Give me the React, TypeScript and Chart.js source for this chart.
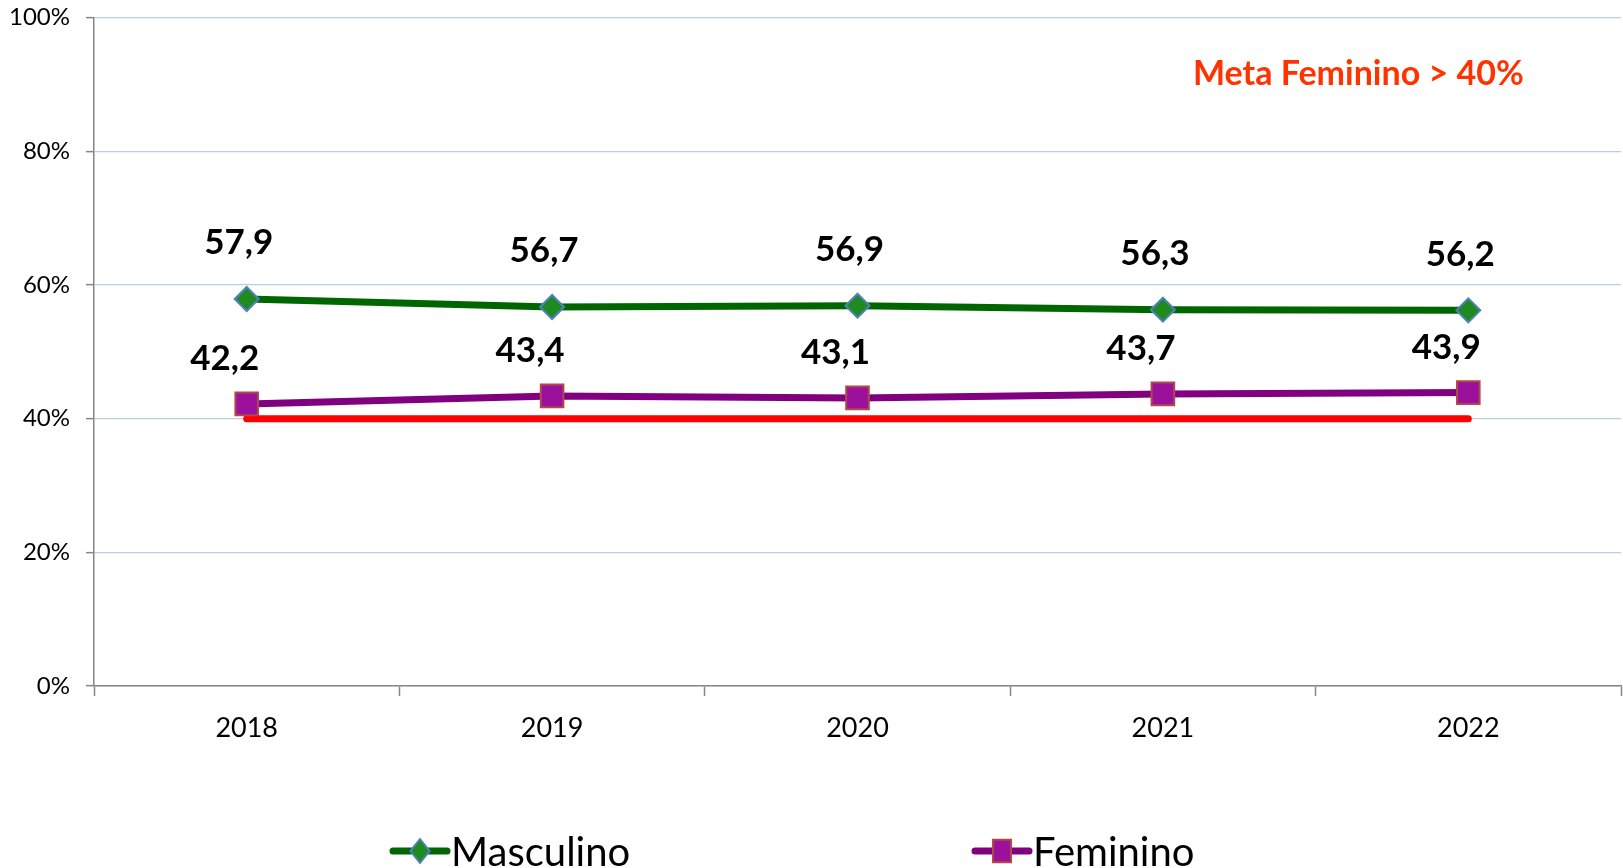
import React, { useEffect, useRef } from "react";
import { Chart, registerables } from "chart.js";

Chart.register(...registerables);

const years = ["2018", "2019", "2020", "2021", "2022"];
const masculino = [57.9, 56.7, 56.9, 56.3, 56.2];
const feminino = [42.2, 43.4, 43.1, 43.7, 43.9];
const meta = [40, 40, 40, 40, 40];
const yTicks = [0, 20, 40, 60, 80, 100];
const metaText = "Meta Feminino > 40%";
const seriesNames = ["Masculino", "Feminino"];

const FONT = "Lato, 'Open Sans', sans-serif";
const GREEN = "#006600";
const PURPLE = "#800080";

const fmt = (v: number) => v.toFixed(1).replace(".", ",");

const labelPlugin = {
  id: "valueLabels",
  afterDatasetsDraw(chart: any) {
    const ctx = chart.ctx;
    const cfg = [
      { i: 0, dx: -8, dy: -56 },
      { i: 1, dx: -22, dy: -45 },
    ];
    ctx.save();
    ctx.fillStyle = "#000";
    ctx.font = `bold 35px ${FONT}`;
    ctx.textAlign = "center";
    ctx.textBaseline = "middle";
    cfg.forEach(({ i, dx, dy }) => {
      const meta = chart.getDatasetMeta(i);
      const data = chart.data.datasets[i].data as number[];
      meta.data.forEach((pt: any, k: number) => {
        ctx.fillText(fmt(data[k]), pt.x + dx, pt.y + dy);
      });
    });
    ctx.restore();
  },
  afterDraw(chart: any) {
    const ctx = chart.ctx;
    const ca = chart.chartArea;
    ctx.save();
    // annotation text
    ctx.fillStyle = "#ff3300";
    ctx.font = `bold 34px ${FONT}`;
    ctx.textAlign = "center";
    ctx.textBaseline = "middle";
    ctx.fillText(metaText, ca.left + (ca.right - ca.left) * 0.828, 74);

    // legend
    const items = [
      { x: 390, color: GREEN, style: "rectRot", r: 12, fill: "#1f8a1f", border: "#4f81bd" },
      { x: 972, color: PURPLE, style: "rect", r: 16, fill: "#9c119c", border: "#b04a4a" },
    ];
    const ly = 851;
    items.forEach((it, idx) => {
      ctx.strokeStyle = it.color;
      ctx.lineWidth = 7;
      ctx.lineCap = "round";
      ctx.beginPath();
      ctx.moveTo(it.x + 3, ly);
      ctx.lineTo(it.x + 57, ly);
      ctx.stroke();
      ctx.fillStyle = it.fill;
      ctx.strokeStyle = it.border;
      ctx.lineWidth = 2;
      const cx = it.x + 30;
      ctx.beginPath();
      if (it.style === "rectRot") {
        ctx.moveTo(cx, ly - it.r);
        ctx.lineTo(cx + it.r * 0.8, ly);
        ctx.lineTo(cx, ly + it.r);
        ctx.lineTo(cx - it.r * 0.8, ly);
        ctx.closePath();
      } else {
        const s = it.r * 0.707;
        ctx.rect(cx - s * 0.8, ly - s, s * 1.6, s * 2);
      }
      ctx.fill();
      ctx.stroke();
      ctx.fillStyle = "#000";
      ctx.font = `40px ${FONT}`;
      ctx.textAlign = "left";
      ctx.textBaseline = "middle";
      ctx.fillText(seriesNames[idx], it.x + 61, ly + 2);
    });
    ctx.restore();
  },
};

export default function App() {
  const ref = useRef<HTMLCanvasElement | null>(null);
  useEffect(() => {
    document.body.style.margin = "0";
    const canvas = ref.current!;
    const chart = new Chart(canvas, {
      type: "line",
      data: {
        labels: years,
        datasets: [
          {
            label: seriesNames[0],
            data: masculino,
            borderColor: GREEN,
            borderWidth: 7,
            pointStyle: "rectRot",
            pointRadius: 12,
            pointBackgroundColor: "#1f8a1f",
            pointBorderColor: "#4f81bd",
            pointBorderWidth: 2,
            tension: 0,
            order: 1,
          },
          {
            label: seriesNames[1],
            data: feminino,
            borderColor: PURPLE,
            borderWidth: 7,
            pointStyle: "rect",
            pointRadius: 16,
            pointBackgroundColor: "#9c119c",
            pointBorderColor: "#b04a4a",
            pointBorderWidth: 2,
            tension: 0,
            order: 2,
          },
          {
            label: "Meta",
            data: meta,
            borderColor: "#ff0000",
            borderWidth: 7,
            borderCapStyle: "round",
            pointRadius: 0,
            tension: 0,
            order: 10,
          },
        ],
      },
      options: {
        responsive: false,
        animation: false,
        devicePixelRatio: 1,
        layout: { autoPadding: false, padding: { top: 17.6, right: 2, left: 0, bottom: 0 } },
        plugins: {
          legend: { display: false },
          tooltip: { enabled: false },
        },
        scales: {
          x: {
            offset: true,
            border: { display: true, color: "#868686", width: 1.5 },
            grid: {
              display: true,
              drawOnChartArea: false,
              drawTicks: true,
              tickLength: 10,
              tickColor: "#868686",
              tickWidth: 1.5,
              offset: true,
            },
            ticks: {
              color: "#000",
              font: { family: FONT, size: 27 },
              padding: 16,
              maxRotation: 0,
            },
            afterFit: (s: any) => {
              s.height = 182;
              s.paddingLeft = 0;
              s.paddingRight = 0;
            },
          },
          y: {
            min: 0,
            max: 100,
            afterBuildTicks: (s: any) => {
              s.ticks = yTicks.map((v) => ({ value: v }));
            },
            border: { display: true, color: "#868686", width: 1.5 },
            grid: {
              color: "#b9cde5",
              lineWidth: 1.3,
              tickColor: "#868686",
              tickLength: 8,
              tickWidth: 1.5,
            },
            ticks: {
              color: "#000",
              font: { family: FONT, size: 24 },
              padding: 16,
              callback: (v: any) => `${v}%`,
            },
            afterFit: (s: any) => {
              s.width = 94;
              s.paddingTop = 0;
              s.paddingBottom = 0;
            },
          },
        },
      },
      plugins: [labelPlugin],
    });
    return () => chart.destroy();
  }, []);
  return (
    <canvas
      ref={ref}
      width={1623}
      height={868}
      style={{ display: "block", width: 1623, height: 868 }}
    />
  );
}
